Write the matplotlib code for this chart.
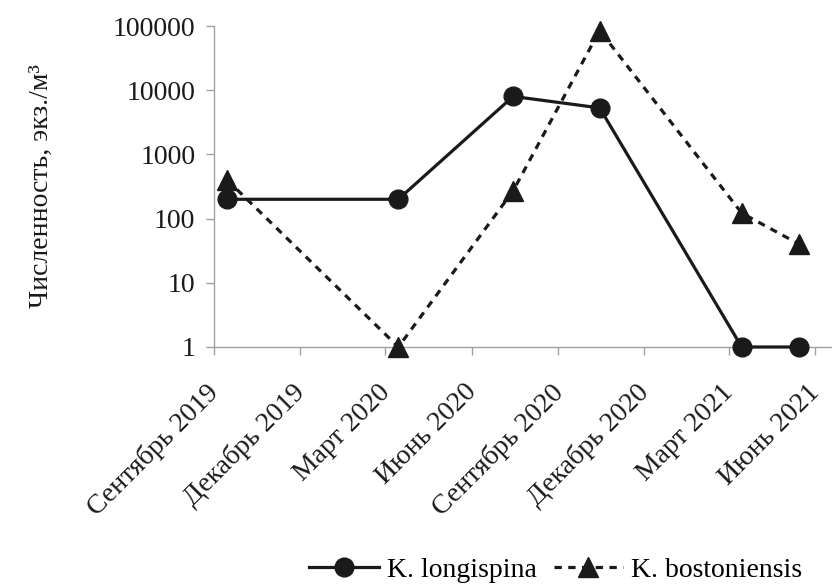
import datetime as dt
import matplotlib
matplotlib.use("Agg")
import matplotlib.pyplot as plt
import matplotlib.dates as mdates
from matplotlib.transforms import ScaledTranslation
from matplotlib.ticker import FixedLocator, FixedFormatter, NullLocator

# Sampling dates and abundances (ind./m^3)
dates = [dt.date(2019, 9, 15), dt.date(2020, 3, 15), dt.date(2020, 7, 15),
         dt.date(2020, 10, 15), dt.date(2021, 3, 15), dt.date(2021, 5, 15)]
longispina = [200, 200, 8000, 5300, 1, 1]
bostoniensis = [400, 1, 270, 85000, 122, 40]

tick_dates = [dt.date(2019, 9, 1), dt.date(2019, 12, 1), dt.date(2020, 3, 1),
              dt.date(2020, 6, 1), dt.date(2020, 9, 1), dt.date(2020, 12, 1),
              dt.date(2021, 3, 1), dt.date(2021, 6, 1)]
tick_labels = ["Сентябрь 2019", "Декабрь 2019", "Март 2020", "Июнь 2020",
               "Сентябрь 2020", "Декабрь 2020", "Март 2021", "Июнь 2021"]
y_ticks = [1, 10, 100, 1000, 10000, 100000]
y_labels = ["1", "10", "100", "1000", "10000", "100000"]

SERIF = "Liberation Serif"
FS = 20
INK = "#1a1a1a"
AXC = "#a0a0a0"

W, H = 832, 586
fig = plt.figure(figsize=(W / 100, H / 100), dpi=100)
ax = fig.add_axes([214 / W, (H - 347) / H, (832 - 214) / W, (347 - 26) / H])

xd = mdates.date2num(dates)
ax.plot(xd, longispina, color=INK, lw=2.3, marker="o", ms=13.5,
        label="K. longispina", clip_on=False, zorder=3)
ax.plot(xd, bostoniensis, color=INK, lw=2.3, ls=(0, (2.3, 2.0)),
        marker="^", ms=14, label="K. bostoniensis", clip_on=False, zorder=3)

ax.set_yscale("log")
ax.set_ylim(1, 100000)
ax.yaxis.set_major_locator(FixedLocator(y_ticks))
ax.yaxis.set_minor_locator(NullLocator())
ax.set_yticklabels(y_labels, family=SERIF, fontsize=FS, color=INK)

ax.set_xlim(mdates.date2num(dt.date(2019, 9, 1)),
            mdates.date2num(dt.date(2021, 6, 19)))
ax.set_xticks(mdates.date2num(tick_dates))
ax.set_xticklabels(tick_labels, rotation=45, ha="right", va="top",
                   rotation_mode="anchor", family=SERIF, fontsize=FS,
                   color=INK)

for s in ("top", "right"):
    ax.spines[s].set_visible(False)
for s in ("left", "bottom"):
    ax.spines[s].set_color(AXC)
    ax.spines[s].set_linewidth(1.0)
ax.tick_params(axis="both", colors=AXC, length=5.5, width=1.0,
               labelcolor=INK)
ax.tick_params(axis="x", pad=18)
ax.tick_params(axis="y", pad=8)

shift = ScaledTranslation(-8 / 100, 0, fig.dpi_scale_trans)
for lab in ax.get_xticklabels():
    lab.set_transform(lab.get_transform() + shift)

ax.set_ylabel("Численность, экз./м³", family=SERIF, fontsize=FS, color=INK,
              labelpad=42)

fig.legend(loc="center", bbox_to_anchor=(556 / W, 1 - 570 / H), ncol=2,
           frameon=False, prop={"family": SERIF, "size": FS},
           handlelength=2.5, handletextpad=0.3, columnspacing=0.6,
           borderpad=0)

fig.savefig("out.png", dpi=100)
